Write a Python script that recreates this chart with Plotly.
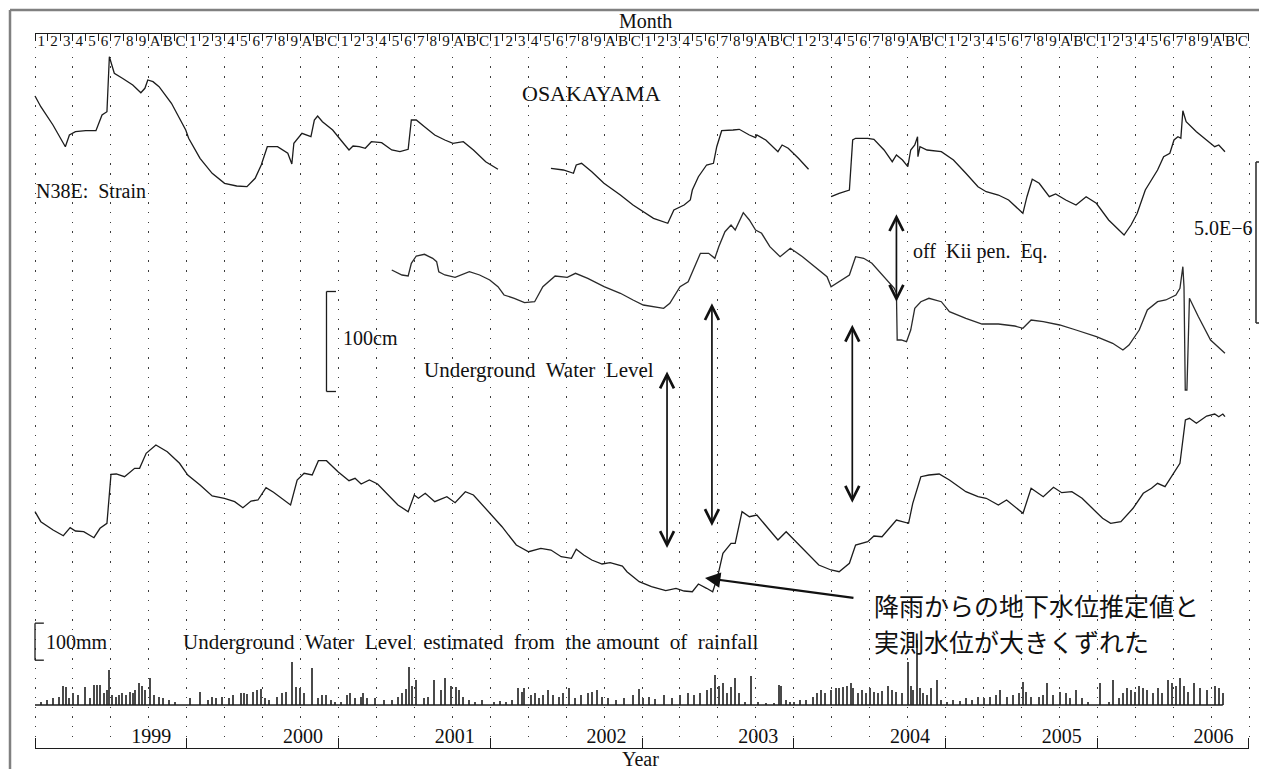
import plotly.graph_objects as go

# ---------------- data (time in months since Jan 1999) ----------------
MONTH_CODES = ['1', '2', '3', '4', '5', '6', '7', '8', '9', 'A', 'B', 'C']
YEARS = [1999, 2000, 2001, 2002, 2003, 2004, 2005, 2006]

# N38E strain (relative level, 161 units = 5.0E-6), three recorded segments
STRAIN_1_M = [0.0, 0.46, 1.42, 2.40, 2.72, 3.20, 4.01, 4.82, 5.30, 5.69,
              5.88, 6.01, 6.27, 6.91, 7.73, 8.37, 8.69, 8.92, 9.33, 9.81,
              10.79, 11.92, 12.15, 13.05, 14.01, 14.99, 15.95, 16.76, 17.41, 17.89,
              18.37, 19.18, 19.99, 20.31, 20.47, 21.11, 21.82, 22.09, 22.35, 22.73,
              23.54, 24.18, 24.83, 25.15, 25.64, 26.12, 26.60, 27.41, 28.21, 28.86,
              29.51, 29.76, 30.15, 30.80, 31.61, 32.41, 33.05, 33.87, 34.67, 35.64,
              36.61]
STRAIN_1_V = [104, 93.3, 75, 53.3, 65, 68.3, 69.3, 69.3, 85, 88.3,
              143.3, 138.3, 126.7, 121.7, 115, 107.3, 111.7, 120, 118.3, 113.3,
              96.7, 70, 61.7, 41.7, 26.7, 16.7, 14, 13.3, 21.7, 35,
              53.3, 53.3, 46.7, 36, 56.7, 66.7, 63.3, 80, 84, 78.3,
              70, 60, 50, 54, 53.3, 51.7, 58.3, 57.3, 50, 48.3,
              50.7, 80, 80, 73.3, 65, 60, 56.7, 58.3, 50, 38.3,
              30.7]
STRAIN_2_M = [40.80, 41.78, 42.58, 42.80, 43.22, 44.03, 44.99, 46.29, 47.29, 48.10,
              48.91, 50.04, 50.52, 51.33, 51.82, 51.98, 52.46, 53.11, 53.65, 53.91,
              54.30, 55.20, 55.69, 56.49, 56.98, 57.08, 57.79, 58.75, 59.08, 59.56,
              60.37, 61.17]
STRAIN_2_V = [31.7, 30, 26.7, 35, 36.7, 28.3, 16.7, 5, -5, -11.7,
              -18.3, -23.3, -10, -5, 0, 10, 23.3, 35, 36.7, 53.3,
              69.3, 70, 70.7, 65, 62.3, 65, 60, 48.3, 55, 51.7,
              41.7, 30.7]
STRAIN_3_M = [62.95, 63.59, 64.40, 64.66, 64.89, 65.85, 66.34, 67.14, 67.79, 68.12,
              68.60, 69.02, 69.25, 69.57, 69.79, 69.82, 69.98, 70.54, 71.67, 72.63,
              73.61, 74.57, 75.22, 76.18, 76.99, 78.12, 78.44, 78.86, 79.41, 80.21,
              80.71, 81.51, 82.32, 83.12, 83.93, 84.90, 86.12, 86.67, 87.16, 87.80,
              88.77, 89.25, 89.74, 90.07, 90.38, 90.61, 90.77, 91.03, 91.84, 92.65,
              93.29, 93.61, 94.10]
STRAIN_3_V = [3.3, 6.7, 10, 60, 61.7, 61.7, 60.7, 50, 38.3, 45,
              40, 33.3, 50, 55, 63.3, 43.3, 53.3, 50, 48.3, 40,
              26.7, 13.3, 8.3, 5, 0, -13.3, 3.3, 20.7, 16.7, 3.3,
              6, 0, -5, 3.3, -3.3, -20, -35, -25, -13.3, 10,
              30, 43.3, 46.7, 60, 63.3, 61.7, 89.3, 78.3, 68.3, 60,
              53.3, 55, 48.3]

# Underground water level (cm, relative)
WATER_M = [28.21, 29.02, 29.51, 29.76, 30.15, 30.80, 31.45, 31.76, 31.93, 32.41,
           33.22, 33.70, 34.35, 35.16, 35.96, 36.61, 37.09, 37.90, 38.71, 39.51,
           40.16, 41.13, 42.09, 42.74, 43.71, 45.00, 46.29, 47.29, 48.10, 49.71,
           50.20, 51.01, 51.65, 52.62, 53.27, 53.76, 54.07, 54.56, 55.04, 55.37,
           56.01, 56.49, 56.98, 57.46, 58.11, 58.92, 59.73, 60.69, 61.66, 62.63,
           62.95, 63.59, 64.40, 64.89, 65.53, 66.18, 67.14, 67.95, 68.12, 68.18,
           68.50, 68.92, 69.25, 69.57, 70.05, 70.69, 71.67, 72.31, 73.61, 74.89,
           76.18, 77.48, 78.12, 78.77, 79.73, 81.03, 82.32, 83.93, 85.22, 86.03,
           86.51, 87.32, 87.96, 88.77, 89.42, 90.22, 90.54, 90.77, 90.86, 90.96,
           91.09, 91.29, 92.00, 92.96, 94.10]
WATER_CM = [130, 125, 124, 136.7, 144, 145.7, 141.7, 138.3, 128.3, 125,
            122.7, 125, 128.3, 125, 120, 113.3, 105, 101.7, 97.3, 98.3,
            113.3, 124, 122.7, 126.7, 121.7, 113.3, 106.7, 100, 95, 91.7,
            96.7, 113.3, 118.3, 146.7, 146.7, 141.7, 153.3, 168.3, 175, 170,
            187.3, 180, 170, 166.7, 153.3, 143.3, 151.7, 143.3, 133.3, 123.3,
            113.3, 118.3, 125, 143.3, 141.7, 136.7, 123.3, 111.7, 106.7, 60,
            60, 58.3, 70, 91.7, 98.3, 101.7, 98.3, 88.3, 81.7, 76,
            76, 74, 71.7, 80, 78.3, 75, 70, 63.3, 56.7, 50,
            55, 70, 90, 98.3, 100, 105, 111.7, 133.3, 113.3, 10,
            10, 101.7, 83.3, 60, 46.7]

# Underground water level estimated from rainfall (cm, relative)
EST_M = [0.0, 0.46, 1.43, 2.24, 2.78, 3.20, 3.85, 4.66, 5.14, 5.69,
         6.01, 6.43, 7.08, 7.88, 8.27, 8.79, 9.56, 10.46, 11.43, 12.08,
         13.05, 14.01, 14.98, 15.79, 16.44, 17.08, 17.63, 18.27, 18.86, 19.50,
         20.21, 20.73, 21.28, 21.92, 22.41, 23.05, 23.96, 24.83, 25.31, 25.79,
         26.44, 27.09, 27.90, 28.70, 29.51, 29.99, 30.32, 30.86, 31.61, 32.57,
         33.22, 34.03, 34.67, 35.64, 36.93, 38.06, 39.03, 40.00, 40.80, 41.61,
         42.42, 42.80, 43.39, 44.03, 44.84, 45.48, 46.45, 46.81, 47.78, 48.75,
         49.88, 50.69, 51.33, 51.98, 52.46, 53.11, 53.59, 53.98, 54.40, 55.04,
         55.37, 55.91, 56.49, 57.08, 57.95, 58.75, 59.40, 60.04, 61.01, 61.98,
         62.95, 63.59, 64.40, 64.89, 65.85, 66.34, 66.98, 68.12, 69.08, 69.41,
         70.05, 70.69, 71.50, 72.31, 73.61, 74.57, 75.22, 76.18, 76.83, 77.31,
         78.13, 78.77, 79.73, 80.54, 81.19, 81.99, 82.80, 83.61, 84.42, 85.06,
         85.87, 86.83, 87.64, 88.29, 88.77, 89.36, 90.06, 90.54, 90.97, 91.29,
         91.84, 92.65, 93.29, 93.61, 93.93, 94.10]
EST_CM = [88.3, 78.3, 70, 64.3, 72.3, 69, 68.3, 62.3, 71.7, 76.7,
          125.7, 126, 123.3, 131.7, 131.7, 146.7, 155, 148.3, 136.7, 125,
          115, 104, 101.7, 98.3, 92.3, 99, 100, 112.3, 107.7, 101.7,
          95, 120, 126.7, 125, 139.3, 139.3, 128.3, 119.3, 121.7, 116,
          120, 116, 105, 95, 88.3, 105, 101.7, 106.7, 98.3, 103.3,
          97.3, 108.3, 105, 91.7, 73.3, 55, 48.3, 51.7, 50, 43.3,
          41.7, 50.7, 45, 40, 36, 37.3, 34, 28.3, 18.3, 13.3,
          9.3, 11.7, 9, 8.3, 16, 11.7, 8.3, 23.3, 46.7, 56.7,
          56.7, 88.3, 83.3, 85, 71.7, 60, 68.3, 60, 48.3, 35,
          30, 28.3, 36.7, 55, 58.3, 64, 63.3, 80, 76.7, 96.7,
          123.3, 125, 126, 120, 108.3, 103.3, 101.7, 95, 100, 95,
          86.7, 111.7, 103.3, 112.7, 107.3, 108.3, 101.7, 91.7, 81.7, 76.7,
          78.3, 91.7, 106.7, 111.7, 116.7, 113.3, 126.7, 136.7, 180, 181.7,
          176.7, 184, 186, 183.3, 186, 183.3]

# Rainfall (mm)
RAIN_M = [
    # 1999
    0.46, 0.94, 1.43, 1.91, 2.24, 2.46, 2.72, 3.04, 3.37, 3.95, 4.33, 4.66, 4.91, 5.14, 5.46, 5.69, 5.88,
    6.11, 6.43, 6.66, 6.91, 7.24, 7.50, 7.73, 7.95, 8.21, 8.46, 8.69, 9.11, 9.43, 9.82, 10.15, 10.63, 11.11,
    # 2000
    12.24, 13.05, 13.70, 14.01, 14.34, 14.82, 15.31, 15.63, 16.27, 16.53, 16.76, 17.25, 17.56, 17.89, 18.21,
    18.54, 19.18, 19.50, 19.82, 20.31, 20.63, 20.96, 21.28, 21.92, 22.41, 22.73, 23.05, 23.38, 23.70,
    # 2001
    24.18, 24.66, 24.93, 25.31, 25.79, 25.96, 26.28, 26.93, 27.57, 28.21, 28.70, 29.02, 29.35, 29.57,
    29.83, 30.15, 30.80, 31.12, 31.54, 32.09, 32.41, 32.90, 33.31, 33.54, 33.87, 34.35, 34.83, 35.32,
    # 2002
    36.29, 36.77, 37.25, 37.74, 38.16, 38.54, 38.71, 39.19, 39.51, 39.84, 40.16, 40.55, 40.97, 41.45,
    41.78, 42.26, 42.74, 43.22, 43.71, 44.03, 44.42, 44.84, 45.33, 45.97, 46.62, 47.26, 47.75,
    # 2003
    48.10, 48.58, 49.07, 49.71, 50.36, 51.01, 51.65, 52.14, 52.62, 53.11, 53.43, 53.76, 54.07, 54.40,
    54.72, 55.04, 55.37, 55.69, 56.17, 56.66, 57.14, 57.79, 58.43, 58.82, 59.01, 59.40, 59.73,
    # 2004
    60.04, 60.53, 61.01, 61.50, 61.82, 62.15, 62.47, 62.95, 63.34, 63.59, 63.92, 64.24, 64.50, 64.72,
    65.05, 65.37, 65.70, 66.02, 66.34, 66.66, 66.98, 67.47, 67.79, 68.12, 68.60, 69.02, 69.25, 69.41,
    69.73, 69.99, 70.21, 70.54, 70.86, 71.34, 71.67,
    # 2005
    72.15, 72.63, 73.12, 73.61, 74.09, 74.57, 75.05, 75.54, 76.03, 76.35, 76.83, 77.31, 77.80, 78.12,
    78.38, 78.77, 79.41, 79.73, 80.05, 80.54, 81.03, 81.51, 81.84, 82.32, 82.80, 83.28,
    # 2006
    84.25, 84.90, 85.22, 85.71, 86.03, 86.35, 86.67, 87.00, 87.32, 87.64, 87.96, 88.45, 88.77, 89.10,
    89.58, 89.91, 90.23, 90.55, 90.87, 91.19, 91.68, 92.16, 92.65, 93.29, 93.61, 93.93,
]
RAIN_MM = [
    # 1999
    9, 13.5, 18, 22, 51, 48, 18, 32, 27, 48, 18, 54, 54, 54, 32, 41, 95,
    27, 22, 27, 32, 27, 36, 32, 41, 59, 50, 41, 72, 27, 22, 18, 13.5, 9,
    # 2000
    18, 36, 13.5, 22, 18, 22, 18, 27, 33, 32, 30, 36, 41, 42, 18,
    13.5, 22, 32, 36, 117, 48, 45, 32, 99, 18, 27, 27, 13.5, 9,
    # 2001
    9, 27, 32, 18, 22, 32, 18, 18, 13.5, 13.5, 22, 32, 42, 102,
    50, 68, 18, 21, 68, 41, 72, 50, 48, 41, 22, 13.5, 9, 13.5,
    # 2002
    9, 12, 9, 13.5, 45, 36, 45, 27, 32, 18, 27, 41, 27, 22,
    33, 45, 18, 27, 32, 36, 41, 22, 18, 13.5, 18, 27, 42,
    # 2003
    18, 22, 15, 27, 18, 27, 32, 27, 32, 41, 45, 81, 50, 59,
    32, 48, 72, 32, 9, 77, 9, 4.5, 4.5, 54, 51, 13.5, 9,
    # 2004
    9, 13.5, 13.5, 22, 32, 41, 32, 41, 45, 45, 48, 51, 59, 45,
    32, 41, 32, 45, 36, 32, 39, 50, 41, 36, 32, 117, 50, 41,
    176, 45, 32, 27, 45, 68, 13.5,
    # 2005
    9, 13.5, 12, 18, 13.5, 22, 18, 21, 27, 41, 22, 27, 32, 63,
    36, 22, 22, 27, 59, 27, 36, 32, 18, 41, 18, 9,
    # 2006
    59, 9, 68, 18, 32, 45, 41, 36, 50, 45, 41, 32, 45, 32,
    68, 59, 50, 72, 50, 36, 59, 45, 41, 50, 45, 32,
]

# ---------------- geometry / styles ----------------
OFF = 8                      # page margin of the html body
W, H = 1267 - OFF, 769 - OFF
SERIF = "Liberation Serif, Times New Roman, serif"
CJK = "Noto Sans CJK JP"
INK = "#1c1c1c"


def pxx(px):      # page x pixel -> paper fraction
    return (px - OFF) / W


def pxy(py):      # page y pixel -> paper fraction
    return 1 - (py - OFF) / H


X0_PX, X1_PX = 35, 1249          # page pixels of month 0 and month 96
N_MONTHS = 12 * len(YEARS)
PX_PER_M = (X1_PX - X0_PX) / N_MONTHS
X_RANGE = [-(X0_PX - OFF) / PX_PER_M, (W + OFF - X0_PX) / PX_PER_M]
GRID_TOP, GRID_BOT = 47, 745
Y_DOM = [pxy(GRID_BOT), pxy(GRID_TOP)]
STRAIN_REF, WATER_REF, EST_REF = 200, 400, 600   # vertical placement of each trace


def level_range(ref):
    return [ref - GRID_BOT, ref - GRID_TOP]


RAIN_BASE_PX, RAIN_MM_PER_PX = 705, 2.7
RAIN_RANGE = [(RAIN_BASE_PX - GRID_BOT) * RAIN_MM_PER_PX, (RAIN_BASE_PX - GRID_TOP) * RAIN_MM_PER_PX]

fig = go.Figure()


def joined(*segs):
    xs, ys = [], []
    for mx, vy in segs:
        if xs:
            xs.append(None)
            ys.append(None)
        xs += list(mx)
        ys += list(vy)
    return xs, ys


sx, sy = joined((STRAIN_1_M, STRAIN_1_V), (STRAIN_2_M, STRAIN_2_V), (STRAIN_3_M, STRAIN_3_V))
line_style = dict(color=INK, width=1.3)
fig.add_trace(go.Scatter(x=sx, y=sy, mode='lines', line=line_style, yaxis='y',
                         connectgaps=False, hoverinfo='skip'))
fig.add_trace(go.Scatter(x=WATER_M, y=WATER_CM, mode='lines', line=dict(color='#2a2a2a', width=1.3),
                         yaxis='y2', hoverinfo='skip'))
fig.add_trace(go.Scatter(x=EST_M, y=EST_CM, mode='lines', line=line_style, yaxis='y3', hoverinfo='skip'))
fig.add_trace(go.Bar(x=RAIN_M, y=RAIN_MM, width=0.09, marker=dict(color='#4a4a4a', line=dict(width=0)),
                     yaxis='y4', hoverinfo='skip'))
fig.add_trace(go.Scatter(x=[0, max(RAIN_M)], y=[0, 0], mode='lines', line=dict(color=INK, width=1.3),
                         yaxis='y4', hoverinfo='skip'))
# anchors for the month / year scale axes
for ax_id in ('x2', 'x3', 'x4', 'x5'):
    fig.add_trace(go.Scatter(x=[None], y=[None], xaxis=ax_id, yaxis='y', hoverinfo='skip'))

scale_dom = [pxx(X0_PX), pxx(X1_PX)]
scale_range = [-0.001, N_MONTHS + 0.001]
CLEAR = 'rgba(0,0,0,0)'
scale_common = dict(type='linear', anchor='free', domain=scale_dom, range=scale_range,
                    showgrid=False, zeroline=False, tickmode='array', fixedrange=True)

fig.update_layout(
    width=W, height=H, margin=dict(l=0, r=0, t=0, b=0),
    paper_bgcolor='white', plot_bgcolor=CLEAR, showlegend=False, bargap=0,
    xaxis=dict(type='linear', domain=[0, 1], range=X_RANGE, anchor='y',
               showgrid=True, gridcolor='#3c3c3c', gridwidth=1.4, griddash='1.4px,8.3px',
               tickmode='linear', tick0=0, dtick=3, ticks='', showticklabels=False,
               showline=False, zeroline=False, fixedrange=True),
    yaxis=dict(domain=Y_DOM, range=level_range(STRAIN_REF), visible=False, fixedrange=True),
    yaxis2=dict(overlaying='y', range=level_range(WATER_REF), visible=False, fixedrange=True),
    yaxis3=dict(overlaying='y', range=level_range(EST_REF), visible=False, fixedrange=True),
    yaxis4=dict(overlaying='y', range=RAIN_RANGE, visible=False, fixedrange=True),
    # month scale: line + month boundary ticks
    xaxis2=dict(scale_common, position=pxy(33), side='bottom', showline=True, linecolor=INK,
                linewidth=1, tickvals=list(range(N_MONTHS + 1)), showticklabels=False,
                ticks='outside', ticklen=7, tickwidth=1, tickcolor=INK),
    # month scale: labels
    xaxis4=dict(scale_common, position=pxy(30), side='bottom', showline=False,
                tickvals=[m + 0.5 for m in range(N_MONTHS)], ticktext=MONTH_CODES * len(YEARS),
                ticks='', tickfont=dict(family=SERIF, size=15, color='#111')),
    # year scale: line + year boundary ticks
    xaxis3=dict(scale_common, position=pxy(748), side='top', showline=True, linecolor=INK,
                linewidth=1.2, tickvals=[12 * i for i in range(len(YEARS) + 1)], showticklabels=False,
                ticks='outside', ticklen=10, tickwidth=1.2, tickcolor=INK),
    # year scale: labels
    xaxis5=dict(scale_common, position=pxy(751), side='top', showline=False,
                tickvals=[12 * i + 9.2 for i in range(len(YEARS))], ticktext=[str(y) for y in YEARS],
                ticks='', ticklabelstandoff=4, tickfont=dict(family=SERIF, size=20, color='#111')),
)

# ---------------- frame and scale bars ----------------
shapes = []
frame = dict(type='line', xref='paper', yref='paper', line=dict(color='#808080', width=2.5))
shapes.append(dict(frame, x0=pxx(10), x1=1, y0=pxy(10), y1=pxy(10)))
shapes.append(dict(frame, x0=pxx(10), x1=pxx(10), y0=0, y1=pxy(10)))


def bracket(x0, x1, lo, hi, xref, yref, color=INK, width=1.3):
    st = dict(type='line', xref=xref, yref=yref, line=dict(color=color, width=width))
    return [dict(st, x0=x0, x1=x0, y0=lo, y1=hi),
            dict(st, x0=x0, x1=x1, y0=hi, y1=hi),
            dict(st, x0=x0, x1=x1, y0=lo, y1=lo)]


STRAIN_5E6 = 161      # strain units that correspond to 5.0E-6
CM_100 = 100
MM_100 = 100
shapes += bracket(pxx(1256), 1.0, 38 - STRAIN_5E6, 38, 'paper', 'y', color='#333', width=1.6)
shapes += bracket(23.05, 23.8, 8.5, 8.5 + CM_100, 'x', 'y2')
shapes += bracket(0.0, 0.7, 121, 121 + MM_100, 'x', 'y4')
fig.update_layout(shapes=shapes)

# ---------------- texts and arrows ----------------
ann = []


def txt(text, x, y, yref, size=21, xanchor='left', family=SERIF, xref='x'):
    ann.append(dict(text=text, x=x, y=y, xref=xref, yref=yref, xanchor=xanchor, yanchor='middle',
                    showarrow=False, font=dict(family=family, size=size, color='#111')))


txt('Month', pxx(645), pxy(21), 'paper', size=20, xanchor='center', xref='paper')
txt('Year', pxx(640), pxy(759), 'paper', size=20, xanchor='center', xref='paper')
txt('OSAKAYAMA', 43.97, 107, 'y', size=22, xanchor='center')
txt('N38E:  Strain', -0.08, 9, 'y', size=20)
txt('5.0E\u22126', 96.45, -28, 'y', size=20, xanchor='right')
txt('off  Kii pen.  Eq.', 69.3, -51, 'y', size=20)
txt('100cm', 24.2, 62, 'y2', size=20)
txt('Underground  Water  Level', 30.6, 30, 'y2', size=21)
txt('100mm', 0.7, 170, 'y4', size=20)
txt('Underground  Water  Level  estimated  from  the amount  of  rainfall', 11.55, 170, 'y4', size=21)
txt('降雨からの地下水位推定値と', 66.19, -5, 'y3', size=25, family=CJK)
txt('実測水位が大きくずれた', 66.19, -41, 'y3', size=25, family=CJK)


def double_arrow(xm, top, bottom, yref):
    ann.append(dict(text='', x=xm, y=bottom, xref='x', yref=yref, ax=xm, ay=top, axref='x', ayref=yref,
                    showarrow=True, arrowside='end+start', arrowhead=5, startarrowhead=5,
                    arrowsize=1.6, startarrowsize=1.6, arrowwidth=1.7, arrowcolor='#111',
                    standoff=0, startstandoff=0))


double_arrow(68.12, 187.3, 98.3, 'y2')
double_arrow(49.98, 30, -148, 'y2')
double_arrow(53.53, 98.3, -126, 'y2')
double_arrow(64.63, 76.7, -102.7, 'y2')

ann.append(dict(text='', x=52.98, y=22, xref='x', yref='y3', ax=64.84, ay=2, axref='x', ayref='y3',
                showarrow=True, arrowhead=2, arrowsize=1.4, arrowwidth=2.2, arrowcolor='#111', standoff=0))

fig.update_layout(annotations=ann)

# keep the page free of scrollbars so the full figure stays visible
NO_SCROLL = "document.documentElement.style.overflow='hidden';document.body.style.overflow='hidden';"
fig.write_html("out.html", post_script=NO_SCROLL)
